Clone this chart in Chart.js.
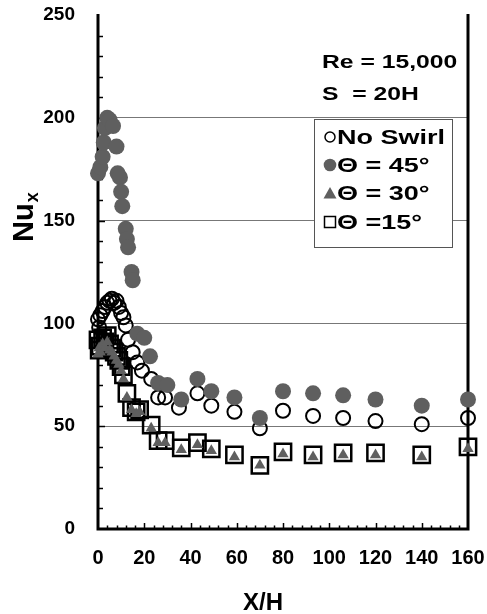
<!DOCTYPE html>
<html>
<head>
<meta charset="utf-8">
<script src="https://cdn.jsdelivr.net/npm/chart.js@4.4.0/dist/chart.umd.min.js"></script>
<style>
  body { margin: 0; background: #fff; }
  canvas { display: block; }
</style>
</head>
<body>
<canvas id="nuChart" width="487" height="614"></canvas>
<script>
// values
const noSwirlX = [0, 0.5, 1, 2, 3, 4, 5, 6, 7, 8, 9, 10, 11, 12, 13, 15, 17, 19, 23, 26, 29, 35, 43, 49, 59, 70, 80, 93, 106, 120, 140, 160];
const noSwirlY = [102, 98, 104, 106, 108, 110, 111, 112, 110, 111, 108, 105, 103, 99, 92, 86, 81, 77, 73, 64, 64, 59, 66, 60, 57, 49, 57.5, 55, 54, 52.5, 51, 54];

const swirl45X = [0, 1, 2, 2.5, 3, 4, 5, 6.5, 8, 8.5, 9.5, 10, 10.5, 12, 12.5, 13, 14.5, 15, 17, 20, 22.5, 26, 30, 36, 43, 49, 59, 70, 80, 93, 106, 120, 140, 160];
const swirl45Y = [173, 176, 181, 188, 195, 200, 199, 196, 186, 173, 171, 164, 157, 146, 141, 137, 125, 121, 95, 93, 84, 71, 70, 63, 73, 67, 64, 54, 67, 66, 65, 63, 60, 63];

const swirl30X = [0, 0.5, 1, 2, 3, 4, 5, 6, 7, 8, 9, 10, 11, 12.5, 14.5, 16.5, 18, 23, 26, 29, 36, 43, 49, 59, 70, 80, 93, 106, 120, 140, 160];
const swirl30Y = [85, 88, 86, 90, 88, 91, 87, 86, 84, 82, 80, 77, 73, 64, 58, 56, 57, 49, 42, 42, 38.5, 41, 38, 35, 31, 36.5, 35, 36, 36, 35, 39];

const swirl15X = [0, 0.5, 1, 2, 3, 4, 5, 6, 7, 8, 9, 10, 11, 12.5, 14.5, 16.5, 18, 23, 26, 29, 36, 43, 49, 59, 70, 80, 93, 106, 120, 140, 160];
const swirl15Y = [92, 87, 89, 93, 91, 94, 90, 88, 86, 84, 82, 79, 75, 66, 59, 57, 58, 50.5, 43, 43, 39.5, 42, 39, 36, 31, 37.5, 36, 37, 37, 36, 40];

const xTicks = [0, 20, 40, 60, 80, 100, 120, 140, 160];
const yTicks = [0, 50, 100, 150, 200, 250];

const legendLabels = ["No Swirl", "\u0398 = 45\u00b0", "\u0398 = 30\u00b0", "\u0398 =15\u00b0"];
const noteLines = ["Re = 15,000", "S  = 20H"];

const GREY = "#5f5f5f";
const FONT = "'Liberation Sans', Arial, sans-serif";

function toPoints(xs, ys) {
  return xs.map((x, i) => ({ x: x, y: ys[i] }));
}

// stretched bold text like the original figure
function wideText(ctx, text, x, y, size, stretch) {
  ctx.save();
  ctx.font = "bold " + size + "px " + FONT;
  ctx.textBaseline = "alphabetic";
  ctx.textAlign = "left";
  ctx.translate(x, y);
  ctx.scale(stretch, 1);
  ctx.fillText(text, 0, 0);
  ctx.restore();
}

const decor = {
  id: "decor",
  beforeDatasetsDraw(chart) {
    const ctx = chart.ctx;
    const a = chart.chartArea;
    const xs = chart.scales.x, ys = chart.scales.y;
    ctx.save();
    ctx.strokeStyle = "#000";
    ctx.lineWidth = 1.5;
    // inward ticks, y axis every 10
    for (let v = 10; v < 250; v += 10) {
      const py = Math.round(ys.getPixelForValue(v)) + 0.5;
      ctx.beginPath();
      ctx.moveTo(a.left, py);
      ctx.lineTo(a.left + (v % 50 === 0 ? 7 : 5), py);
      ctx.stroke();
    }
    // inward ticks, x axis every 4
    for (let v = 4; v < 160; v += 4) {
      const px = Math.round(xs.getPixelForValue(v)) + 0.5;
      ctx.beginPath();
      ctx.moveTo(px, a.bottom);
      ctx.lineTo(px, a.bottom - (v % 20 === 0 ? 6 : 3.5));
      ctx.stroke();
    }
    // left, bottom and right border
    ctx.lineWidth = 3;
    ctx.beginPath();
    ctx.moveTo(a.left, a.top - 1);
    ctx.lineTo(a.left, a.bottom);
    ctx.lineTo(a.right, a.bottom);
    ctx.lineTo(a.right, a.top - 1);
    ctx.stroke();
    ctx.restore();
  },
  afterDraw(chart) {
    const ctx = chart.ctx;
    ctx.save();
    ctx.fillStyle = "#000";

    // Re / S note
    wideText(ctx, noteLines[0], 322, 68, 19, 1.3);
    wideText(ctx, noteLines[1], 322, 100, 19, 1.3);

    // legend box
    const bx = 314, by = 119, bw = 138, bh = 128;
    ctx.fillStyle = "#fff";
    ctx.fillRect(bx, by, bw, bh);
    ctx.strokeStyle = "#555";
    ctx.lineWidth = 1;
    ctx.strokeRect(bx + 0.5, by + 0.5, bw, bh);

    const rows = [137, 165, 193, 222];
    const mx = 330;
    // open circle
    ctx.strokeStyle = "#000";
    ctx.lineWidth = 1.5;
    ctx.beginPath();
    ctx.arc(mx, rows[0], 5, 0, Math.PI * 2);
    ctx.stroke();
    // grey dot
    ctx.fillStyle = GREY;
    ctx.beginPath();
    ctx.arc(mx, rows[1], 6.3, 0, Math.PI * 2);
    ctx.fill();
    // grey triangle
    ctx.beginPath();
    ctx.moveTo(mx, rows[2] - 6);
    ctx.lineTo(mx + 6.5, rows[2] + 5.5);
    ctx.lineTo(mx - 6.5, rows[2] + 5.5);
    ctx.closePath();
    ctx.fill();
    // open square
    ctx.strokeRect(mx - 5.5, rows[3] - 5.5, 11, 11);

    ctx.fillStyle = "#000";
    legendLabels.forEach((t, i) => wideText(ctx, t, 337, rows[i] + 7, 20, 1.35));

    // y title: Nu with subscript x
    ctx.save();
    ctx.translate(33, 242);
    ctx.rotate(-Math.PI / 2);
    ctx.font = "bold 29px " + FONT;
    ctx.textBaseline = "alphabetic";
    ctx.fillText("Nu", 0, 0);
    const w = ctx.measureText("Nu").width;
    ctx.font = "bold 18px " + FONT;
    ctx.fillText("x", w + 1, 5);
    ctx.restore();

    // x title
    ctx.font = "bold 24px " + FONT;
    ctx.textAlign = "center";
    ctx.textBaseline = "alphabetic";
    ctx.fillText("X/H", 263, 610);
    ctx.restore();
  }
};

new Chart(document.getElementById("nuChart").getContext("2d"), {
  type: "scatter",
  data: {
    datasets: [
      {
        label: legendLabels[0],
        data: toPoints(noSwirlX, noSwirlY),
        pointStyle: "circle",
        pointRadius: 7,
        borderWidth: 2,
        borderColor: "#000",
        backgroundColor: "rgba(0,0,0,0)",
        order: 4,
        clip: false
      },
      {
        label: legendLabels[1],
        data: toPoints(swirl45X, swirl45Y),
        pointStyle: "circle",
        pointRadius: 8,
        borderWidth: 0,
        borderColor: GREY,
        backgroundColor: GREY,
        order: 3,
        clip: false
      },
      {
        label: legendLabels[3],
        data: toPoints(swirl15X, swirl15Y),
        pointStyle: "rect",
        pointRadius: 11.5,
        borderWidth: 2.5,
        borderColor: "#000",
        backgroundColor: "rgba(0,0,0,0)",
        order: 2,
        clip: false
      },
      {
        label: legendLabels[2],
        data: toPoints(swirl30X, swirl30Y),
        pointStyle: "triangle",
        pointRadius: 6.5,
        borderWidth: 0,
        borderColor: GREY,
        backgroundColor: GREY,
        order: 1,
        clip: false
      }
    ]
  },
  options: {
    responsive: false,
    animation: false,
    layout: { padding: { left: 0, right: 19, top: 15, bottom: 0 } },
    plugins: { legend: { display: false }, tooltip: { enabled: false } },
    scales: {
      x: {
        type: "linear",
        min: 0,
        max: 160,
        afterFit: (scale) => {
          scale.height = 85;
          scale.paddingLeft = 0;
          scale.paddingRight = 0;
        },
        afterBuildTicks: (scale) => { scale.ticks = xTicks.map(v => ({ value: v })); },
        ticks: { color: "#000", font: { family: FONT, size: 20, weight: "bold" }, padding: 17, maxRotation: 0 },
        grid: { display: false, drawTicks: false },
        border: { display: false }
      },
      y: {
        type: "linear",
        min: 0,
        max: 250,
        afterFit: (scale) => {
          scale.width = 98;
          scale.paddingTop = 0;
          scale.paddingBottom = 0;
        },
        afterBuildTicks: (scale) => { scale.ticks = yTicks.map(v => ({ value: v })); },
        ticks: { color: "#000", font: { family: FONT, size: 19, weight: "bold" }, padding: 23 },
        grid: {
          drawTicks: false,
          lineWidth: 1,
          color: (c) => (c.tick && (c.tick.value === 0 || c.tick.value === 250)) ? "rgba(0,0,0,0)" : "#777"
        },
        border: { display: false }
      }
    }
  },
  plugins: [decor]
});
</script>
</body>
</html>
